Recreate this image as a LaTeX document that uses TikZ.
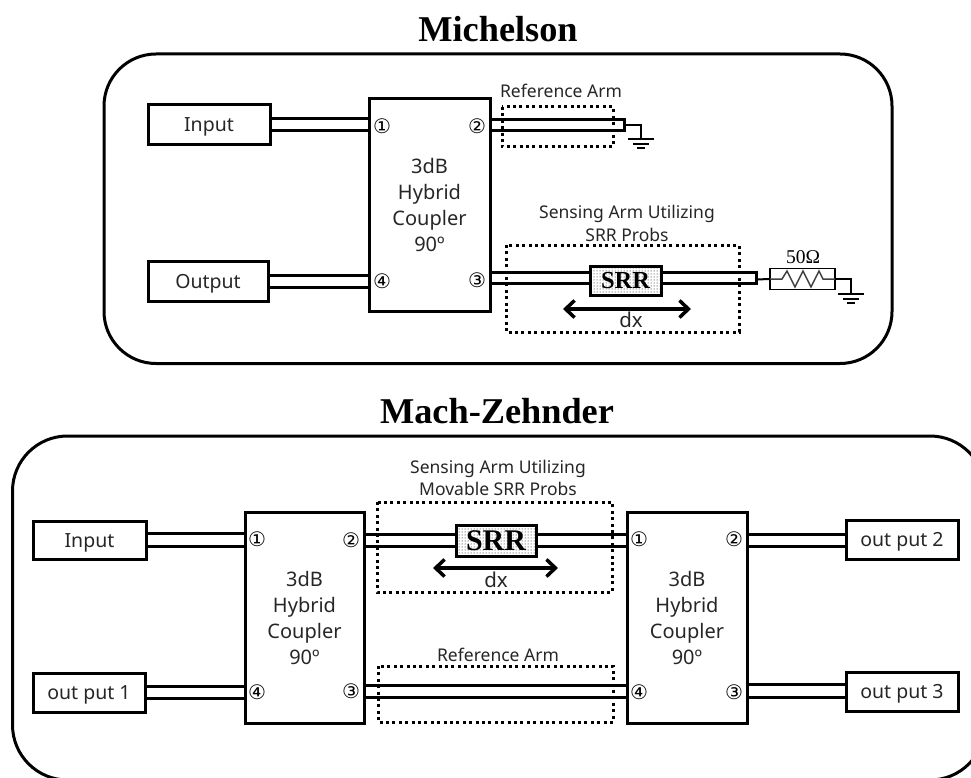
\documentclass[tikz,border=0pt]{standalone}
\usepackage{fontspec}
\setmainfont{Noto Sans}
\newfontfamily\titlefont{Liberation Serif}
\newfontfamily\symfont{DejaVu Sans}
\usetikzlibrary{patterns,arrows.meta}
\tikzset{
  outerbox/.style={draw,line width=3pt,rounded corners=52pt},
  blockbox/.style={draw,line width=3pt,inner sep=0pt,outer sep=0pt,text=black!85},
  couplerbox/.style={blockbox,align=center,font=\fontsize{20}{26}\selectfont},
  portbox/.style={blockbox,font=\fontsize{19.5}{24}\selectfont,text height=14pt,text depth=0pt},
  srrbox/.style={draw,line width=3pt,inner sep=0pt,outer sep=0pt,fill=white,postaction={pattern=dots,pattern color=black}},
  srrtext/.style={inner sep=0pt,font=\titlefont\bfseries\fontsize{24.5}{24}\selectfont},
  wire/.style={line width=3pt},
  thinwire/.style={line width=2pt},
  dotbox/.style={draw,line width=3pt,dash pattern=on 3pt off 3.4pt},
  lbl/.style={inner sep=0pt,align=center,text=black!85,font=\fontsize{17.5}{22.5}\selectfont},
  dxlbl/.style={inner sep=0pt,text=black!85,font=\fontsize{20.5}{22}\selectfont},
  portnum/.style={inner sep=0pt,font=\symfont\fontsize{20}{20}\selectfont},
  titlelbl/.style={inner sep=0pt,font=\titlefont\bfseries\fontsize{36.3}{38}\selectfont},
  movearrow/.style={line width=3.5pt,{Straight Barb[length=9pt,width=17pt,line width=3.5pt]}-{Straight Barb[length=9pt,width=17pt,line width=3.5pt]}},
  gnd/.style={line width=2.5pt}
}
% double feed line between #1 and #2 at picture heights #3 and #4
\newcommand{\feedline}[4]{%
  \draw[wire] (#1.east |- 0,#3) -- (#2.west |- 0,#3);
  \draw[wire] (#1.east |- 0,#4) -- (#2.west |- 0,#4);}
\newcommand{\groundat}[1]{%
  \draw[gnd] ([xshift=-13pt]#1) -- ([xshift=13pt]#1);
  \draw[gnd] ([xshift=-8pt,yshift=-5pt]#1) -- ([xshift=8pt,yshift=-5pt]#1);
  \draw[gnd] ([xshift=-4pt,yshift=-9pt]#1) -- ([xshift=4pt,yshift=-9pt]#1);}
\begin{document}
\begin{tikzpicture}[x=1pt,y=-1pt]
\useasboundingbox (0,0) rectangle (971,778);
\begin{scope}
\clip (0,0) rectangle (971,778);
\draw[outerbox] (104,54) rectangle (892,363.5);
\draw[outerbox,rounded corners=55pt] (12.5,436) rectangle (985,780);
\end{scope}
\node[titlelbl] (t1) at (498,29) {Michelson};
\node[titlelbl] (t2) at (497,411) {Mach-Zehnder};

% ---- Michelson
\node[portbox,minimum width=122pt,minimum height=40pt] (in1) at (209,125) {Input};
\node[portbox,minimum width=120pt,minimum height=40pt] (out1) at (208,281) {Output};
\node[couplerbox,minimum width=121pt,minimum height=212pt] (c0) at (429.5,205) {3dB\\Hybrid\\Coupler\\90º};
\node[portnum] (p01) at (382,126.5) {①};
\node[portnum] (p02) at (477,126) {②};
\node[portnum] (p03) at (477,280) {③};
\node[portnum] (p04) at (382,281) {④};
\feedline{in1}{c0}{119}{131}
\feedline{out1}{c0}{275}{287}

\coordinate (refend) at (624,125.5);
\draw[wire] (c0.east |- 0,120) -- (refend |- 0,120) -- (refend |- 0,131) -- (c0.east |- 0,131);
\coordinate (g1) at (641,139);
\draw[thinwire] (refend) -- (g1 |- refend) -- (g1);
\groundat{g1}
\draw[dotbox] (502,107) rectangle (613,147);
\node[lbl] (l1) at (561,91) {Reference Arm};

\node[srrbox,minimum width=71pt,minimum height=29pt] (s0) at (625.5,280.5) {};
\node[srrtext] (s0t) at (s0.center) {SRR};
\coordinate (send) at (756,277.5);
\draw[wire] (c0.east |- 0,272) -- (s0.west |- 0,272);
\draw[wire] (c0.east |- 0,283) -- (s0.west |- 0,283);
\draw[wire] (s0.east |- 0,272) -- (send |- 0,272) -- (send |- 0,283) -- (s0.east |- 0,283);
\draw[dotbox] (506,245) rectangle (739,332);
\node[lbl] (l2) at (627,223.5) {Sensing Arm Utilizing\\SRR Probs};
\coordinate (al) at (563,309);
\coordinate (ar) at (691,309);
\draw[movearrow] (al) -- (ar);
\node[dxlbl] (d0) at (631,320) {dx};

\node[draw,line width=1.2pt,minimum width=65pt,minimum height=21pt,inner sep=0pt,outer sep=0pt] (r0) at (802.5,279) {};
\draw[thinwire] (send) ++(0,2) -- (r0.west);
\draw[line width=1.5pt,black!75] (r0.west) -- ++(12,0) -- ++(5,-8) -- ++(8,16) -- ++(8,-16) -- ++(8,16) -- ++(8,-16) -- ++(4,8) -- (r0.east);
\coordinate (g2) at (851,294);
\draw[thinwire] (r0.east) -- (g2 |- r0.east) -- (g2);
\groundat{g2}
\node[inner sep=0pt,font=\titlefont\fontsize{19.5}{20}\selectfont] (r0l) at (803,257) {50Ω};

% ---- Mach-Zehnder
\node[portbox,minimum width=113pt,minimum height=38pt] (in2) at (89.5,540) {Input};
\node[portbox,minimum width=112pt,minimum height=39pt] (o1) at (89,692.5) {out put 1};
\node[couplerbox,minimum width=119pt,minimum height=211pt] (c1) at (304.5,617.5) {3dB\\Hybrid\\Coupler\\90º};
\node[couplerbox,minimum width=120pt,minimum height=211pt] (c2) at (687,617.5) {3dB\\Hybrid\\Coupler\\90º};
\node[portbox,minimum width=112pt,minimum height=39pt] (o2) at (902,539.5) {out put 2};
\node[portbox,minimum width=112pt,minimum height=39pt] (o3) at (902,691.5) {out put 3};
\node[portnum] (p11) at (257,539) {①};
\node[portnum] (p12) at (351,540) {②};
\node[portnum] (p13) at (351,691) {③};
\node[portnum] (p14) at (257,692) {④};
\node[portnum] (p21) at (639,539) {①};
\node[portnum] (p22) at (734,539) {②};
\node[portnum] (p23) at (734,692) {③};
\node[portnum] (p24) at (639,692) {④};
\feedline{in2}{c1}{533}{546}
\feedline{o1}{c1}{686}{698}
\feedline{c2}{o2}{534}{546}
\feedline{c2}{o3}{684}{697}
\feedline{c1}{c2}{685}{697}

\node[srrbox,minimum width=80pt,minimum height=31pt] (s1) at (496,540.5) {};
\node[srrtext,font=\titlefont\bfseries\fontsize{30}{30}\selectfont] (s1t) at (s1.center) {SRR};
\draw[wire] (c1.east |- 0,534) -- (s1.west |- 0,534);
\draw[wire] (c1.east |- 0,546) -- (s1.west |- 0,546);
\draw[wire] (s1.east |- 0,534) -- (c2.west |- 0,534);
\draw[wire] (s1.east |- 0,546) -- (c2.west |- 0,546);
\draw[dotbox] (377,502) rectangle (612,592);
\node[lbl] (l3) at (498,478) {Sensing Arm Utilizing\\Movable SRR Probs};
\coordinate (bl) at (433,568);
\coordinate (br) at (558,568);
\draw[movearrow] (bl) -- (br);
\node[dxlbl] (d1) at (496,580) {dx};
\draw[dotbox] (378,666) rectangle (613,722);
\node[lbl] (l4) at (498,655) {Reference Arm};
\end{tikzpicture}
\end{document}
